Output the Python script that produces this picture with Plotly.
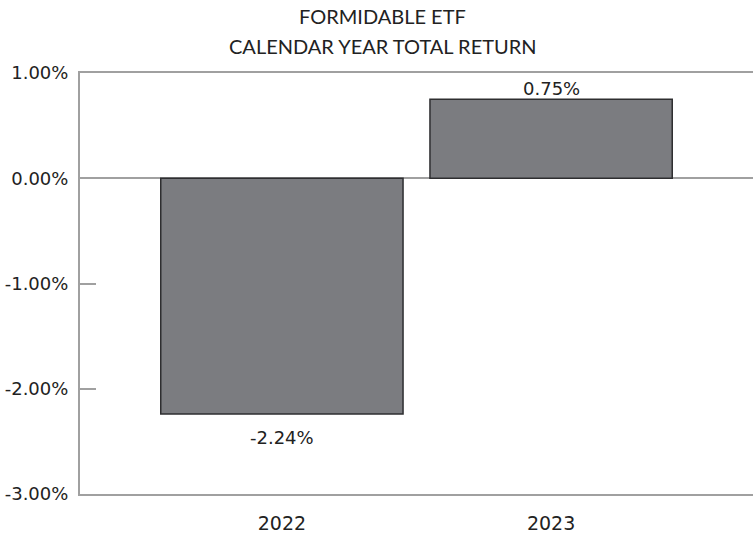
import plotly.graph_objects as go

years = ["2022", "2023"]
returns = [-2.24, 0.75]
labels = ["-2.24%", "0.75%"]
tick_vals = [1, 0, -1, -2, -3]
tick_text = ["1.00%", "0.00%", "-1.00%", "-2.00%", "-3.00%"]
title_lines = ["FORMIDABLE ETF", "CALENDAR YEAR TOTAL RETURN"]

TFONT = "Lato, sans-serif"
NFONT = "DejaVu Sans, sans-serif"
fig = go.Figure()
fig.add_trace(go.Bar(
    x=years, y=returns, width=0.9,
    marker=dict(color="#7b7c80", line=dict(color="#2e2e30", width=1.5)),
))
for idx, (yv, lab) in enumerate(zip(returns, labels)):
    fig.add_annotation(
        x=idx, y=yv, text=lab, showarrow=False,
        xanchor="center", yanchor="middle",
        yshift=11 if yv >= 0 else -23,
        font=dict(family=NFONT, size=18, color="#222"),
    )

fig.update_layout(
    width=753, height=533,
    margin=dict(l=80, r=0, t=73, b=39),
    plot_bgcolor="white", paper_bgcolor="white",
    showlegend=False,
    font=dict(family=NFONT, size=18, color="#222"),
)
for i, line in enumerate(title_lines):
    fig.add_annotation(
        text=line, xref="paper", yref="paper", x=0.45, y=1,
        yshift=73 - 16 - 30 * i, xanchor="center", yanchor="middle",
        showarrow=False, font=dict(family=TFONT, size=20, color="#222"),
    )
fig.update_xaxes(
    type="category", range=[-0.75, 1.75],
    showline=True, linecolor="#a0a0a0", linewidth=2, mirror=True,
    showgrid=False, ticks="", ticklabelstandoff=11,
    tickfont=dict(family=NFONT, size=19, color="#222"),
)
fig.update_yaxes(
    range=[-3, 1], tickvals=tick_vals, ticktext=tick_text,
    showline=True, linecolor="#a0a0a0", linewidth=2,
    showgrid=False, zeroline=True, zerolinecolor="#a0a0a0", zerolinewidth=2,
    ticks="inside", ticklen=16, tickwidth=2, tickcolor="#a0a0a0",
    ticklabelstandoff=6,
    tickfont=dict(family=NFONT, size=18, color="#222"),
)
fig.write_html("out.html", config={"displayModeBar": False},
               post_script="document.body.style.margin='0';document.body.style.padding='0';")
